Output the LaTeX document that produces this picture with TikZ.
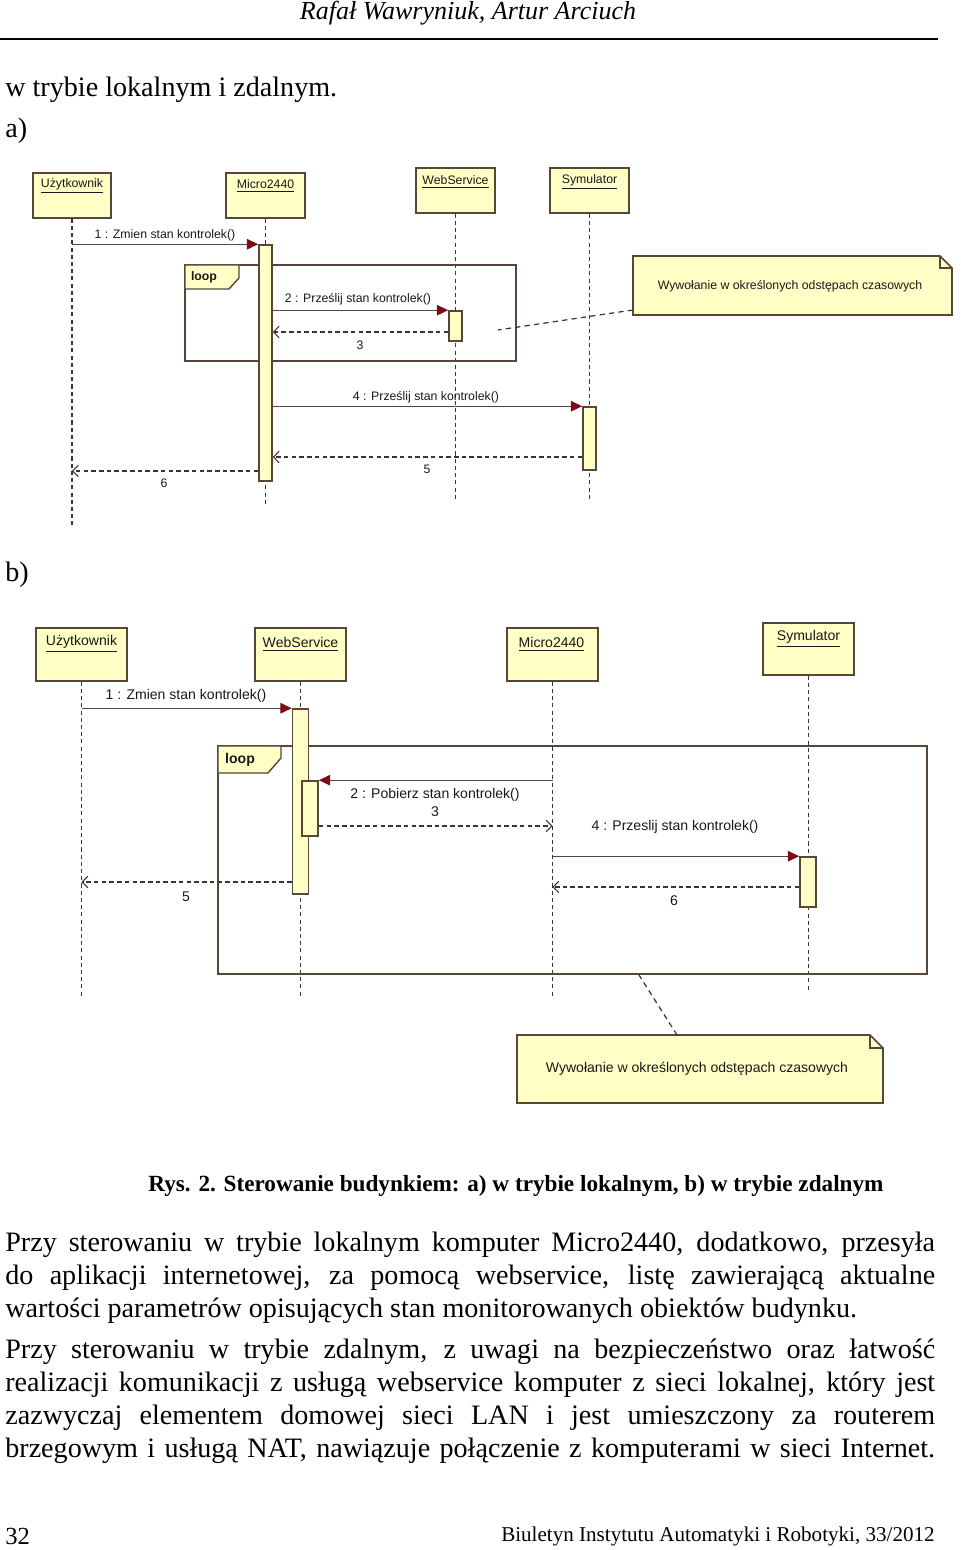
\documentclass[tikz,border=0pt]{standalone}
\usepackage{fontspec}
\setmainfont{Liberation Serif}
\newfontfamily\umlfont{Liberation Sans}
\usetikzlibrary{arrows.meta}

\definecolor{umlfill}{RGB}{255,255,198}
\definecolor{umledge}{RGB}{88,70,56}
\definecolor{umltip}{RGB}{125,12,22}
\definecolor{umlline}{RGB}{62,52,46}

\tikzset{
    headbox/.style={draw=umledge, fill=umlfill, line width=0.9pt, inner sep=0pt},
    actbar/.style={draw=umledge, fill=umlfill, line width=0.9pt, inner sep=0pt},
    lifeline/.style={draw=umlline, line width=0.9pt, dash pattern=on 2.3pt off 1.8pt},
    callmsg/.style={draw=umledge, line width=0.75pt, -{Triangle[length=6.5pt,width=6pt,color=umltip]}},
    returnmsg/.style={draw=umlline, line width=0.6pt, dash pattern=on 2.6pt off 1.8pt, -{Straight Barb[length=3.2pt,width=6.5pt]}},
    loopframe/.style={draw=umledge, line width=0.8pt},
    notebox/.style={draw=umledge, fill=umlfill, line width=0.9pt},
    notelink/.style={draw=umlline, line width=0.7pt, dash pattern=on 3pt off 2.4pt},
    umla/.style={font=\umlfont\fontsize{7}{8}\selectfont, inner sep=0pt, text=black!90},
    umlb/.style={font=\umlfont\fontsize{8}{9.5}\selectfont, inner sep=0pt, text=black!90},
    bodyline/.style={font=\fontsize{16}{18.7}\selectfont, inner sep=0pt, anchor=base west},
    bodypar/.style={font=\fontsize{16}{18.7}\selectfont, inner sep=0pt, anchor=north west, text width=18.6cm, align=justify}
}

\begin{document}
\begin{tikzpicture}[x=0.02cm, y=-0.02cm]
    \useasboundingbox (0,0) rectangle (960,1550);

    \node[font=\itshape\fontsize{14.8}{17}\selectfont, inner sep=0pt, anchor=base] (author) at (468,20) {Rafał Wawryniuk, Artur Arciuch};
    \draw[line width=0.8pt] (0,39) -- (938,39);
    \node[bodyline] (intro) at (5,97) {w trybie lokalnym i zdalnym.};
    \node[bodyline] (parta) at (5,138) {a)};

    % a) lokalnie
    \node[headbox, minimum width=1.56cm, minimum height=0.9cm] (ua) at (72,195.5) {};
    \node[headbox, minimum width=1.58cm, minimum height=0.9cm] (ma) at (265.5,195.5) {};
    \node[headbox, minimum width=1.58cm, minimum height=0.9cm] (wa) at (455.5,190.5) {};
    \node[headbox, minimum width=1.58cm, minimum height=0.9cm] (sa) at (589.5,190.5) {};
    \node[umla] (ual) at (72,186) {\underline{Użytkownik}};
    \node[umla] (mal) at (265.5,186) {\underline{Micro2440}};
    \node[umla] (wal) at (455.5,182) {\underline{WebService}};
    \node[umla] (sal) at (589.5,182) {\underline{Symulator}};

    \draw[lifeline] (ua.south) -- (ua.south |- 0,525);
    \draw[lifeline] (ma.south) -- (ma.south |- 0,505);
    \draw[lifeline] (wa.south) -- (wa.south |- 0,500);
    \draw[lifeline] (sa.south) -- (sa.south |- 0,500);

    \draw[loopframe] (185,265) rectangle (516,361);
    \filldraw[
        fill = umlfill,
        draw = umledge,
        line width = 0.8pt
    ]
    (185,265) -- (239,265) -- (239,278) -- (229,289) -- (185,289) -- cycle;
    \node[umla, font=\umlfont\bfseries\fontsize{7}{8}\selectfont] (loopa) at (204,277) {loop};

    \node[actbar, minimum width=0.26cm, minimum height=4.72cm] (mact) at (265.5,363) {};
    \node[actbar, minimum width=0.26cm, minimum height=0.6cm] (wact) at (455.5,326) {};
    \node[actbar, minimum width=0.26cm, minimum height=1.26cm] (sact) at (589.5,438.5) {};

    \draw[callmsg] (ua.south |- mact.north) -- (mact.north west);
    \draw[callmsg] (mact.east |- wact.north) -- (wact.north west);
    \draw[returnmsg] (wact.west |- 0,332) -- (mact.east |- 0,332);
    \draw[callmsg] (mact.east |- sact.north) -- (sact.north west);
    \draw[returnmsg] (sact.west |- 0,457) -- (mact.east |- 0,457);
    \draw[returnmsg] (mact.west |- 0,471) -- (ua.south |- 0,471);

    \node[umla] (m1a) at (165,235) {1 : Zmien stan kontrolek()};
    \node[umla] (m2a) at (358,299) {2 : Prześlij stan kontrolek()};
    \node[umla] (m3a) at (360,345) {3};
    \node[umla] (m4a) at (426,397) {4 : Prześlij stan kontrolek()};
    \node[umla] (m5a) at (427,469) {5};
    \node[umla] (m6a) at (164,483) {6};

    \filldraw[notebox] (633,256) -- (940,256) -- (952,268) -- (952,315) -- (633,315) -- cycle;
    \draw[notebox, fill=none] (940,256) -- (940,268) -- (952,268);
    \node[umla] (notea) at (790,286) {Wywołanie w określonych odstępach czasowych};
    \coordinate (notea link) at (633,310);
    \coordinate (loopa link) at (498,330);
    \draw[notelink] (notea link) -- (loopa link);

    \node[bodyline] (partb) at (5,581) {b)};

    % b) zdalnie
    \node[headbox, minimum width=1.82cm, minimum height=1.06cm] (ub) at (81.5,654.5) {};
    \node[headbox, minimum width=1.82cm, minimum height=1.06cm] (wb) at (300.5,654.5) {};
    \node[headbox, minimum width=1.82cm, minimum height=1.06cm] (mb) at (552.5,654.5) {};
    \node[headbox, minimum width=1.82cm, minimum height=1.04cm] (sb) at (808.5,649) {};
    \node[umlb] (ubl) at (81.5,644) {\underline{Użytkownik}};
    \node[umlb] (wbl) at (300.5,644) {\underline{WebService}};
    \node[umlb] (mbl) at (551.5,644) {\underline{Micro2440}};
    \node[umlb] (sbl) at (808.5,639) {\underline{Symulator}};

    \draw[lifeline] (ub.south) -- (ub.south |- 0,998);
    \draw[lifeline] (wb.south) -- (wb.south |- 0,998);
    \draw[lifeline] (mb.south) -- (mb.south |- 0,998);
    \draw[lifeline] (sb.south) -- (sb.south |- 0,992);

    \draw[loopframe] (218,746) rectangle (927,974);
    \filldraw[
        fill = umlfill,
        draw = umledge,
        line width = 0.8pt
    ]
    (218,746) -- (281,746) -- (281,758) -- (268,773) -- (218,773) -- cycle;
    \node[umlb, font=\umlfont\bfseries\fontsize{8}{9.5}\selectfont] (loopb) at (240,760) {loop};

    \node[actbar, minimum width=0.32cm, minimum height=3.7cm] (wbact) at (300.5,801.5) {};
    \node[actbar, minimum width=0.32cm, minimum height=1.1cm] (wbin) at (310,808.5) {};
    \node[actbar, minimum width=0.32cm, minimum height=1.0cm] (sbact) at (808,882) {};

    \draw[callmsg] (ub.south |- wbact.north) -- (wbact.north west);
    \draw[callmsg] (mb.south |- wbin.north) -- (wbin.north east);
    \draw[returnmsg] (wbin.east |- 0,826) -- (mb.south |- 0,826);
    \draw[callmsg] (mb.south |- sbact.north) -- (sbact.north west);
    \draw[returnmsg] (sbact.west |- 0,887) -- (mb.south |- 0,887);
    \draw[returnmsg] (wbact.west |- 0,882) -- (ub.south |- 0,882);

    \node[umlb] (m1b) at (186,696) {1 : Zmien stan kontrolek()};
    \node[umlb] (m2b) at (435,795) {2 : Pobierz stan kontrolek()};
    \node[umlb] (m3b) at (435,812) {3};
    \node[umlb] (m4b) at (675,827) {4 : Przeslij stan kontrolek()};
    \node[umlb] (m6b) at (674,901) {6};
    \node[umlb] (m5b) at (186,897) {5};

    \filldraw[notebox] (517,1035) -- (870,1035) -- (883,1048) -- (883,1103) -- (517,1103) -- cycle;
    \draw[notebox, fill=none] (870,1035) -- (870,1048) -- (883,1048);
    \node[umlb] (noteb) at (697,1069) {Wywołanie w określonych odstępach czasowych};
    \coordinate (noteb link) at (677,1035);
    \coordinate (loopb link) at (639,975);
    \draw[notelink] (noteb link) -- (loopb link);

    \node[font=\bfseries\fontsize{13.2}{15}\selectfont, inner sep=0pt, anchor=base] (caption) at (516,1191) {Rys. 2. Sterowanie budynkiem: a) w trybie lokalnym, b) w trybie zdalnym};

    \node[bodypar] (para1) at (5,1232) {Przy sterowaniu w trybie lokalnym komputer Micro2440, dodatkowo, przesyła\linebreak do aplikacji internetowej, za pomocą webservice, listę zawierającą aktualne\linebreak wartości parametrów opisujących stan monitorowanych obiektów budynku.};
    \node[bodypar] (para2) at (5,1339) {{\parfillskip=0pt Przy sterowaniu w trybie zdalnym, z uwagi na bezpieczeństwo oraz łatwość\linebreak realizacji komunikacji z usługą webservice komputer z sieci lokalnej, który jest\linebreak zazwyczaj elementem domowej sieci LAN i jest umieszczony za routerem\linebreak brzegowym i usługą NAT, nawiązuje połączenie z komputerami w sieci Internet.\par}};

    \node[font=\fontsize{14}{16}\selectfont, inner sep=0pt, anchor=base west] (pageno) at (5,1544) {32};
    \node[font=\fontsize{12}{14}\selectfont, inner sep=0pt, anchor=base east] (journal) at (935,1541) {Biuletyn Instytutu Automatyki i Robotyki, 33/2012};
\end{tikzpicture}
\end{document}
